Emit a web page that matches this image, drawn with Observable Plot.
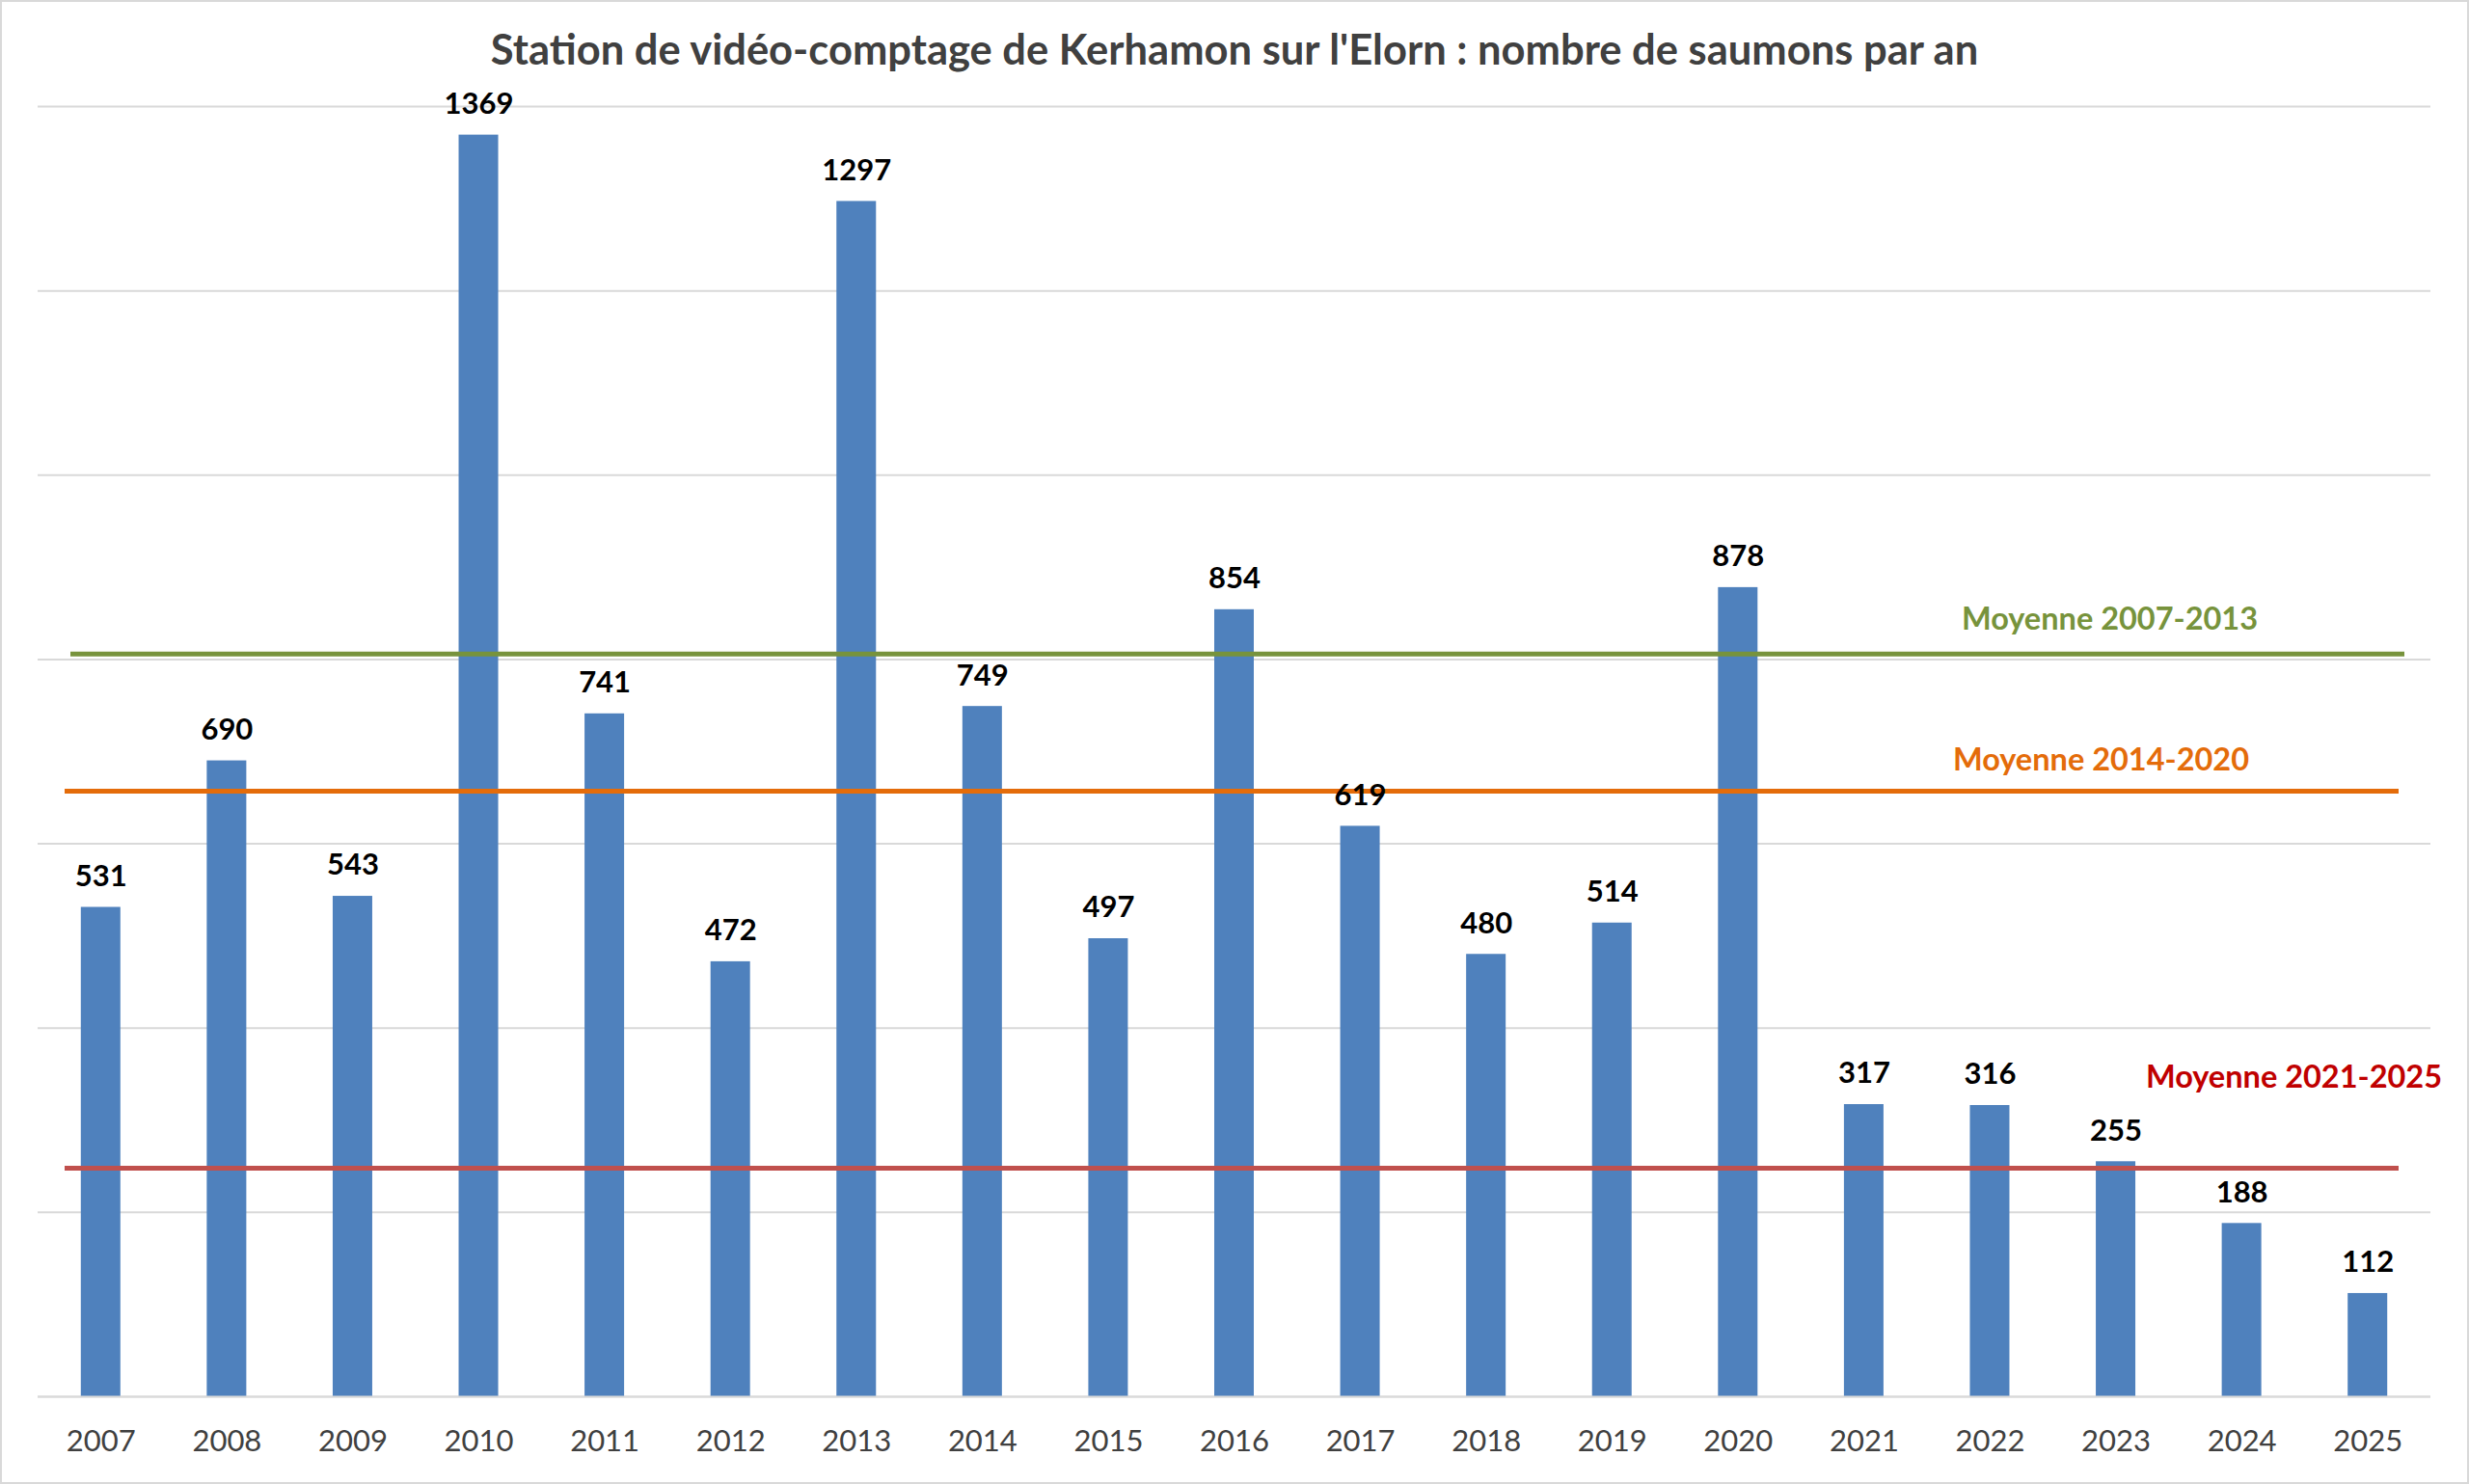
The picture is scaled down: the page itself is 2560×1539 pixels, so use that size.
<!DOCTYPE html>
<html>
<head>
<meta charset="utf-8">
<script src="https://cdn.jsdelivr.net/npm/d3@7"></script>
<script src="https://cdn.jsdelivr.net/npm/@observablehq/plot@0.6"></script>
<style>
  html, body { margin: 0; padding: 0; background: #fff; }
  #frame {
    position: relative; width: 2560px; height: 1539px; box-sizing: border-box;
    border: 2px solid #D9D9D9; background: #fff; overflow: hidden;
  }
  #title {
    height: 83px; line-height: 96px; text-align: center;
    font-family: Lato, "Open Sans", sans-serif; font-weight: 700; font-size: 43.5px;
    color: #404040; white-space: nowrap;
  }
</style>
</head>
<body>
<div id="frame">
  <div id="title">Station de vidéo-comptage de Kerhamon sur l'Elorn : nombre de saumons par an</div>
  <div id="chart"></div>
</div>
<script>
const years = ["2007","2008","2009","2010","2011","2012","2013","2014","2015","2016","2017","2018","2019","2020","2021","2022","2023","2024","2025"];
const counts = [531, 690, 543, 1369, 741, 472, 1297, 749, 497, 854, 619, 480, 514, 878, 317, 316, 255, 188, 112];
const yTicks = [0, 200, 400, 600, 800, 1000, 1200, 1400];

const avgLabels = ["Moyenne 2007-2013", "Moyenne 2014-2020", "Moyenne 2021-2025"];
const avgValues = [806, 657, 248];
const avgLineColors = ["#77933C", "#E46C0A", "#C0504D"];
const avgTextColors = ["#77933C", "#E46C0A", "#C00000"];

const bars = years.map((y, i) => ({year: y, count: counts[i]}));
const avgs = avgLabels.map((l, i) => ({label: l, value: avgValues[i], line: avgLineColors[i], text: avgTextColors[i]}));

const FONT = "Lato, 'Open Sans', sans-serif";

const chart = Plot.plot({
  width: 2556,
  height: 1452,
  marginLeft: 37,
  marginRight: 38,
  marginTop: 25,
  marginBottom: 89,
  style: {fontFamily: FONT, background: "#fff"},
  x: {domain: years, paddingInner: 0.686, paddingOuter: 0.343, round: false, label: null},
  y: {domain: [0, 1400], axis: null, label: null},
  marks: [
    Plot.ruleY(yTicks, {stroke: "#D9D9D9", strokeWidth: 2}),
    Plot.barY(bars, {x: "year", y: "count", fill: "#4F81BD"}),
    Plot.ruleY([avgs[0]], {y: "value", stroke: "line", strokeWidth: 5, insetLeft: 34, insetRight: 27}),
    Plot.ruleY([avgs[1]], {y: "value", stroke: "line", strokeWidth: 5, insetLeft: 28, insetRight: 33}),
    Plot.ruleY([avgs[2]], {y: "value", stroke: "line", strokeWidth: 5, insetLeft: 28, insetRight: 33}),
    Plot.text(bars, {x: "year", y: "count", text: d => String(d.count), dy: -32,
      fontSize: 31, fontWeight: 700, fill: "#000", lineAnchor: "middle"}),
    Plot.text([avgs[0]], {y: "value", text: "label", frameAnchor: "right", textAnchor: "middle",
      dx: -333, dy: -36, fill: "text", fontSize: 32.5, fontWeight: 700, lineAnchor: "middle"}),
    Plot.text([avgs[1]], {y: "value", text: "label", frameAnchor: "right", textAnchor: "middle",
      dx: -342, dy: -32, fill: "text", fontSize: 32.5, fontWeight: 700, lineAnchor: "middle"}),
    Plot.text([avgs[2]], {y: "value", text: "label", frameAnchor: "right", textAnchor: "middle",
      dx: -142, dy: -94, fill: "text", fontSize: 32.5, fontWeight: 700, lineAnchor: "middle"}),
    Plot.axisX({tickSize: 0, tickPadding: 34, fontSize: 31, color: "#404040", label: null}),
    Plot.ruleY([0], {stroke: "#D9D9D9", strokeWidth: 2})
  ]
});
document.getElementById("chart").appendChild(chart);
</script>
</body>
</html>
